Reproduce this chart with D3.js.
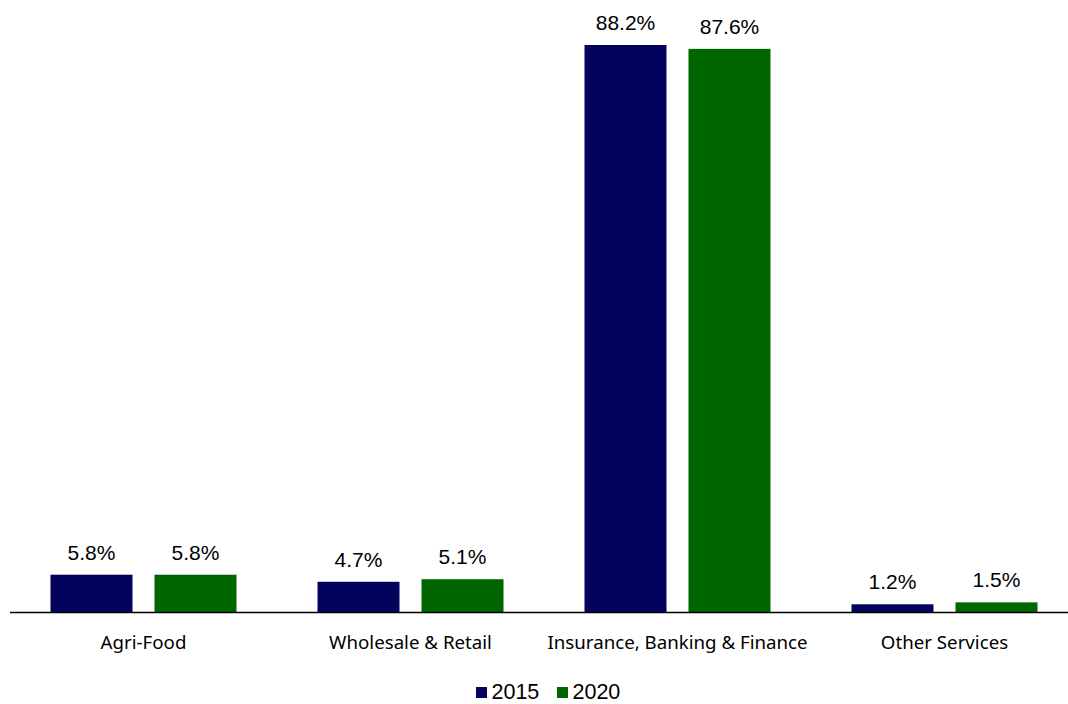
<!DOCTYPE html>
<html><head><meta charset="utf-8">
<script src="https://cdn.jsdelivr.net/npm/d3@7"></script>
<style>body{margin:0;background:#fff}svg{display:block}</style>
</head><body>
<script>
const categories = ["Agri-Food", "Wholesale & Retail", "Insurance, Banking & Finance", "Other Services"];
const seriesNames = ["2015", "2020"];
const values2015 = [5.8, 4.7, 88.2, 1.2];
const values2020 = [5.8, 5.1, 87.6, 1.5];
const colors = ["#03035e", "#006600"];

const W = 1068, H = 704;
const svg = d3.select("body").append("svg").attr("width", W).attr("height", H);
const baseY = 612;
const x0 = d3.scaleBand().domain(categories).range([10, 1078]).paddingInner(0).paddingOuter(0);
const x1 = d3.scaleBand().domain(seriesNames).range([40.5, x0.bandwidth() - 40.5]).paddingInner(22/104).paddingOuter(0);
const y = d3.scaleLinear().domain([0, 88.2]).range([baseY, 45]);

const data = categories.map((c, i) => ({cat: c, vals: [values2015[i], values2020[i]]}));
const g = svg.append("g");
data.forEach(d => {
  d.vals.forEach((v, j) => {
    const bx = x0(d.cat) + x1(seriesNames[j]);
    g.append("rect").attr("x", bx).attr("y", y(v)).attr("width", x1.bandwidth()).attr("height", baseY - y(v)).attr("fill", colors[j]);
    g.append("text").attr("x", bx + x1.bandwidth()/2).attr("y", y(v) - 15)
      .attr("text-anchor", "middle").attr("font-family", "Liberation Sans, Arial, sans-serif")
      .attr("font-size", 21).attr("fill", "#000").text(v.toFixed(1) + "%");
  });
});

svg.append("line").attr("x1", 10).attr("x2", W).attr("y1", baseY + 0.5).attr("y2", baseY + 0.5).attr("stroke", "#000").attr("stroke-width", 1.5);

const xAxis = d3.axisBottom(x0).tickSize(0).tickPadding(0);
const ax = svg.append("g").attr("transform", `translate(0,${baseY})`).call(xAxis);
ax.select(".domain").remove();
ax.selectAll("text").attr("font-family", "Noto Sans, sans-serif").attr("font-size", 18.7).attr("fill", "#000").attr("dy", null).attr("y", 37);

const leg = svg.append("g");
const legItems = [{n: "2015", x: 476}, {n: "2020", x: 557}];
legItems.forEach((it, j) => {
  leg.append("rect").attr("x", it.x).attr("y", 687).attr("width", 11).attr("height", 11).attr("fill", colors[j]);
  leg.append("text").attr("x", it.x + 15.5).attr("y", 699).attr("font-family", "Liberation Sans, Arial, sans-serif").attr("font-size", 21.5).attr("fill", "#000").text(it.n);
});
</script>
</body></html>
